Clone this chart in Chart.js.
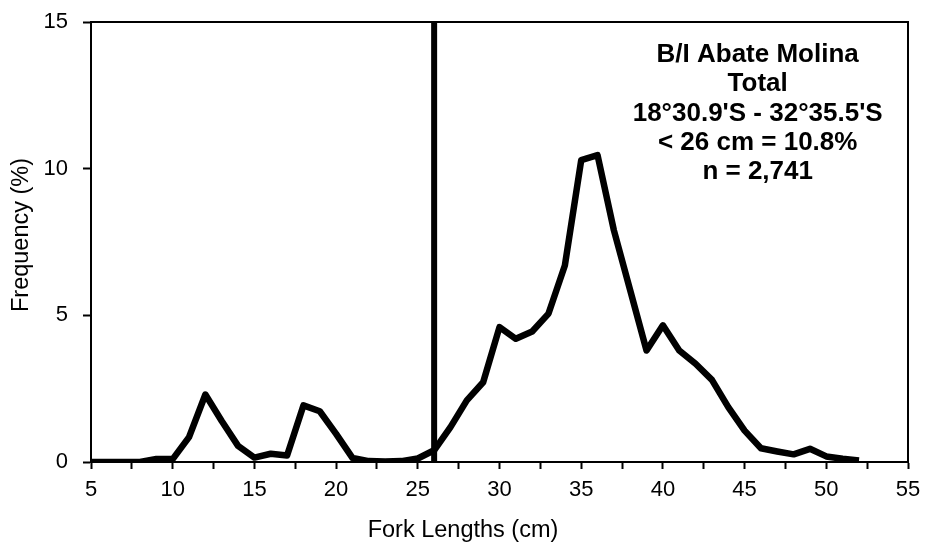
<!DOCTYPE html>
<html>
<head>
<meta charset="utf-8">
<script src="https://cdn.jsdelivr.net/npm/chart.js@4/dist/chart.umd.min.js"></script>
<style>
  html, body { margin: 0; padding: 0; background: #fff; }
</style>
</head>
<body>
<canvas id="chart" width="925" height="546"></canvas>
<script>
// fork length classes (cm) and frequency (%)
const forkLengths = [5, 6, 7, 8, 9, 10, 11, 12, 13, 14, 15, 16, 17, 18, 19, 20, 21, 22, 23, 24, 25, 26, 27, 28,
  29, 30, 31, 32, 33, 34, 35, 36, 37, 38, 39, 40, 41, 42, 43, 44, 45, 46, 47, 48, 49, 50, 51, 52];
const frequency = [0, 0, 0, 0, 0.1, 0.1, 0.85, 2.3, 1.4, 0.55, 0.15, 0.28, 0.22, 1.93, 1.73, 0.96, 0.14, 0.03, 0.02, 0.03, 0.12, 0.4, 1.19, 2.1,
  2.72, 4.6, 4.2, 4.45, 5.06, 6.7, 10.29, 10.46, 7.9, 5.85, 3.8, 4.66, 3.8, 3.35, 2.8, 1.87, 1.07, 0.47, 0.36, 0.26, 0.45, 0.19, 0.11, 0.05];
const cutoffLength = 26;
const xTickLabels = [5, 10, 15, 20, 25, 30, 35, 40, 45, 50, 55];
const yTickLabels = [0, 5, 10, 15];
const xTitle = "Fork Lengths (cm)";
const yTitle = "Frequency (%)";
const infoLines = ["B/I Abate Molina", "Total", "18°30.9'S - 32°35.5'S", "< 26 cm = 10.8%", "n = 2,741"];

const FONT = "'Liberation Sans', Arial, sans-serif";

const points = forkLengths.map((x, i) => ({ x: x, y: frequency[i] }));
const cutoffLine = [{ x: cutoffLength, y: yTickLabels[0] }, { x: cutoffLength, y: yTickLabels[yTickLabels.length - 1] }];

// frame round the plot, axis titles and the text block
const framePlugin = {
  id: "frame",
  afterDraw(chart) {
    const ctx = chart.ctx;
    const a = chart.chartArea;
    ctx.save();
    ctx.strokeStyle = "#000";
    ctx.lineWidth = 2;
    ctx.strokeRect(a.left, a.top, a.right - a.left, a.bottom - a.top);

    ctx.fillStyle = "#000";
    ctx.textAlign = "center";
    ctx.textBaseline = "middle";

    // axis titles (the x one sits left of the plot centre in the original)
    ctx.font = "23.5px " + FONT;
    ctx.fillText(xTitle, 463, 531);
    ctx.save();
    ctx.translate(22, 235);
    ctx.rotate(-Math.PI / 2);
    ctx.fillText(yTitle, 0, 0);
    ctx.restore();

    ctx.font = "bold 26px " + FONT;
    const cx = chart.scales.x.getPixelForValue(45.8);
    infoLines.forEach((line, i) => {
      ctx.fillText(line, cx, a.top + 33 + i * 29.3);
    });
    ctx.restore();
  }
};

const ctx = document.getElementById("chart").getContext("2d");
const myChart = new Chart(ctx, {
  type: "line",
  data: {
    datasets: [
      {
        data: points,
        borderColor: "#000",
        borderWidth: 6.5,
        pointRadius: 0,
        tension: 0,
        borderJoinStyle: "round",
        fill: false,
      },
      {
        data: cutoffLine,
        borderColor: "#000",
        borderWidth: 6,
        pointRadius: 0,
        fill: false,
      },
    ],
  },
  options: {
    responsive: false,
    animation: false,
    events: [],
    layout: { padding: { top: 22, right: 17, left: 0, bottom: 0 } },
    plugins: { legend: { display: false }, tooltip: { enabled: false } },
    scales: {
      x: {
        type: "linear",
        min: xTickLabels[0],
        max: xTickLabels[xTickLabels.length - 1],
        // fixed height, and no extra room for the end labels
        afterFit: (s) => { s.height = 84; s.paddingLeft = 0; s.paddingRight = 0; },
        afterBuildTicks: (s) => {
          const t = [];
          for (let v = s.min; v <= s.max; v += 2.5) t.push({ value: v });
          s.ticks = t;
        },
        ticks: {
          autoSkip: false,
          maxRotation: 0,
          color: "#000",
          padding: 8,
          font: { family: FONT, size: 22 },
          callback: (v) => (xTickLabels.includes(v) ? String(v) : ""),
        },
        grid: { drawOnChartArea: false, drawTicks: true, tickLength: 7, tickColor: "#000", tickWidth: 2 },
        border: { color: "#000", width: 2 },
      },
      y: {
        min: yTickLabels[0],
        max: yTickLabels[yTickLabels.length - 1],
        afterFit: (s) => { s.width = 91; s.paddingTop = 0; s.paddingBottom = 0; },
        afterBuildTicks: (s) => { s.ticks = yTickLabels.map((v) => ({ value: v })); },
        ticks: {
          color: "#000",
          padding: 15,
          font: { family: FONT, size: 22 },
        },
        grid: { drawOnChartArea: false, drawTicks: true, tickLength: 8, tickColor: "#000", tickWidth: 2 },
        border: { color: "#000", width: 2 },
      },
    },
  },
  plugins: [framePlugin],
});
</script>
</body>
</html>
